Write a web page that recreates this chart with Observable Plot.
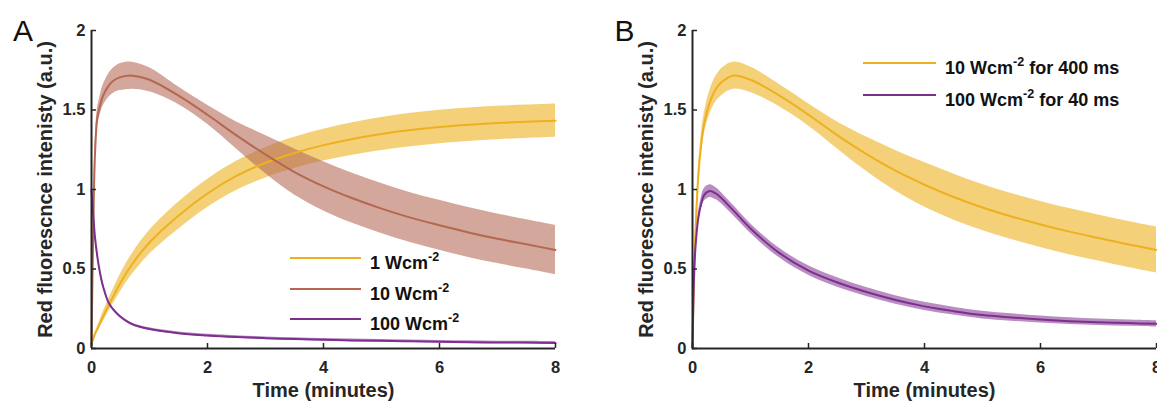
<!DOCTYPE html>
<html><head><meta charset="utf-8">
<script src="https://cdn.jsdelivr.net/npm/d3@7"></script>
<script src="https://cdn.jsdelivr.net/npm/@observablehq/plot@0.6"></script>
<style>
html,body{margin:0;padding:0;background:#fff;overflow:hidden}
#wrap{position:relative;width:1157px;height:401px;overflow:hidden;font-family:"Liberation Sans",Arial,sans-serif}
#panelA{position:absolute;left:0;top:0;width:580px}
#panelB{position:absolute;left:600px;top:0;width:576px}
#wrap svg{max-width:none !important}
#legend{position:absolute;left:0;top:0;pointer-events:none}
</style></head><body>
<div id="wrap"><div id="panelA"></div><div id="panelB"></div>
<svg id="legend" width="1157" height="401"></svg></div>
<script>
// ---- data ----
const time = [0, 0.03, 0.06, 0.1, 0.15, 0.2, 0.3, 0.4, 0.5, 0.7, 1, 1.5, 2, 2.5, 3, 3.5, 4, 4.5, 5, 5.5, 6, 6.5, 7, 7.5, 8];

// Panel A
const a1Mean = [0.03, 0.06, 0.09, 0.12, 0.16, 0.2, 0.275, 0.345, 0.414, 0.53, 0.667, 0.835, 0.975, 1.085, 1.168, 1.23, 1.279, 1.318, 1.349, 1.374, 1.393, 1.407, 1.418, 1.426, 1.433];
const a1Err  = [0, 0.008, 0.012, 0.015, 0.022, 0.03, 0.04, 0.048, 0.055, 0.065, 0.075, 0.085, 0.088, 0.092, 0.095, 0.098, 0.1, 0.102, 0.104, 0.105, 0.105, 0.105, 0.105, 0.105, 0.105];
const a10Mean = [0.02, 0.75, 1.22, 1.45, 1.53, 1.59, 1.655, 1.69, 1.707, 1.716, 1.69, 1.59, 1.47, 1.34, 1.22, 1.11, 1.02, 0.945, 0.88, 0.823, 0.775, 0.73, 0.69, 0.655, 0.62];
const a10Err  = [0, 0.03, 0.045, 0.055, 0.06, 0.065, 0.075, 0.08, 0.085, 0.085, 0.075, 0.055, 0.06, 0.085, 0.12, 0.145, 0.155, 0.157, 0.157, 0.157, 0.157, 0.157, 0.156, 0.155, 0.155];
const a100Mean = [1.0, 0.84, 0.70, 0.58, 0.47, 0.39, 0.285, 0.235, 0.2, 0.153, 0.122, 0.096, 0.082, 0.072, 0.065, 0.06, 0.055, 0.051, 0.048, 0.045, 0.043, 0.04, 0.038, 0.037, 0.035];
const a100Err  = [0.012, 0.01, 0.01, 0.01, 0.009, 0.009, 0.008, 0.008, 0.008, 0.008, 0.008, 0.008, 0.008, 0.008, 0.008, 0.008, 0.008, 0.008, 0.008, 0.008, 0.008, 0.008, 0.008, 0.008, 0.008];

// Panel B
const b10Mean = [0, 0.5, 0.8, 1.08, 1.28, 1.41, 1.55, 1.63, 1.675, 1.716, 1.69, 1.59, 1.47, 1.34, 1.222, 1.118, 1.03, 0.953, 0.887, 0.83, 0.78, 0.735, 0.695, 0.656, 0.62];
const b10Err  = [0, 0.03, 0.045, 0.055, 0.06, 0.065, 0.075, 0.08, 0.085, 0.085, 0.08, 0.07, 0.07, 0.085, 0.108, 0.128, 0.14, 0.145, 0.145, 0.145, 0.145, 0.145, 0.145, 0.145, 0.145];
const b100Mean = [0, 0.49, 0.68, 0.82, 0.91, 0.965, 0.99, 0.975, 0.945, 0.87, 0.755, 0.6, 0.49, 0.415, 0.355, 0.305, 0.265, 0.235, 0.21, 0.195, 0.182, 0.172, 0.165, 0.16, 0.155];
const b100Err  = [0, 0.02, 0.025, 0.03, 0.035, 0.04, 0.04, 0.038, 0.035, 0.032, 0.03, 0.03, 0.03, 0.03, 0.028, 0.027, 0.026, 0.025, 0.024, 0.023, 0.022, 0.021, 0.02, 0.02, 0.02];

const xTicks = [0, 2, 4, 6, 8];
const yTicks = [0, 0.5, 1, 1.5, 2];
const xLabel = "Time (minutes)";
const yLabel = "Red fluorescnce intenisty (a.u.)";

const legendAMain = ["1 Wcm", "10 Wcm", "100 Wcm"];
const legendASup = ["-2", "-2", "-2"];
const legendARest = ["", "", ""];
const legendBMain = ["10 Wcm", "100 Wcm"];
const legendBSup = ["-2", "-2"];
const legendBRest = [" for 400 ms", " for 40 ms"];

const YELLOW = "#EDB120", BROWN = "#B5674F", BROWN_BAND = "#B56D59", PURPLE = "#7E2F8E";
const AXIS = "#262626";
const FONT = '"Liberation Sans", Arial, sans-serif';

function rowsOf(mean, err) {
  return time.map((t, i) => ({t, m: mean[i], lo: mean[i] - err[i], hi: mean[i] + err[i]}));
}

function panel(series, {width, marginLeft, marginRight, letter, letterDx}) {
  const marks = [];
  const data = series.map(s => rowsOf(s.mean, s.err));
  series.forEach((s, i) => marks.push(Plot.areaY(data[i], {x: "t", y1: "lo", y2: "hi", fill: s.band, fillOpacity: s.op, curve: "catmull-rom"})));
  series.forEach((s, i) => marks.push(Plot.line(data[i], {x: "t", y: "m", stroke: s.color, strokeWidth: 2, curve: "catmull-rom"})));
  marks.push(
    Plot.ruleX([0], {y1: 0, y2: 2, stroke: AXIS, strokeWidth: 2}),
    Plot.ruleY([0], {x1: 0, x2: 8, stroke: AXIS, strokeWidth: 2}),
    Plot.axisX(xTicks, {tickSize: -5, tickPadding: 18, fontSize: 16.5, fontWeight: "bold", fill: AXIS, stroke: AXIS, strokeWidth: 1.5, label: null, tickFormat: d => String(d)}),
    Plot.axisY(yTicks, {tickSize: -5, tickPadding: 11, fontSize: 16.5, fontWeight: "bold", fill: AXIS, stroke: AXIS, strokeWidth: 1.5, label: null, tickFormat: d => String(d)}),
    Plot.text([yLabel], {frameAnchor: "left", dx: -46, rotate: -90, textAnchor: "middle", lineAnchor: "middle", fontSize: 20, fontWeight: "bold", fill: AXIS}),
    Plot.text([xLabel], {frameAnchor: "bottom", dy: 42, textAnchor: "middle", lineAnchor: "middle", fontSize: 20, fontWeight: "bold", fill: AXIS}),
    Plot.text([letter], {frameAnchor: "top-left", dx: letterDx, dy: 1, textAnchor: "middle", lineAnchor: "middle", fontSize: 30, fill: "#111"})
  );
  return Plot.plot({
    width, height: 401, marginLeft, marginRight, marginTop: 30, marginBottom: 53,
    style: {fontFamily: FONT, background: "transparent", overflow: "visible", maxWidth: "none"},
    x: {domain: [0, 8]},
    y: {domain: [0, 2]},
    marks
  });
}

document.getElementById("panelA").append(panel([
  {mean: a1Mean, err: a1Err, color: YELLOW, band: YELLOW, op: 0.6},
  {mean: a10Mean, err: a10Err, color: BROWN, band: BROWN_BAND, op: 0.6},
  {mean: a100Mean, err: a100Err, color: PURPLE, band: PURPLE, op: 0.55}
], {width: 580, marginLeft: 91, marginRight: 25, letter: "A", letterDx: -68.5}));

document.getElementById("panelB").append(panel([
  {mean: b10Mean, err: b10Err, color: YELLOW, band: YELLOW, op: 0.6},
  {mean: b100Mean, err: b100Err, color: PURPLE, band: PURPLE, op: 0.55}
], {width: 576, marginLeft: 92, marginRight: 20, letter: "B", letterDx: -68}));

// ---- legends ----
const svg = d3.select("#legend").style("font-family", FONT);
function legend(x0, x1, tx, ys, colors, main, sup, rest) {
  ys.forEach((y, i) => {
    svg.append("line").attr("x1", x0).attr("x2", x1).attr("y1", y).attr("y2", y)
      .attr("stroke", colors[i]).attr("stroke-width", 2);
    const t = svg.append("text").attr("x", tx).attr("y", y + 11)
      .attr("font-size", 18).attr("font-weight", "bold").attr("fill", "#111");
    t.append("tspan").text(main[i]);
    t.append("tspan").attr("dy", -8.5).attr("font-size", 12.5).text(sup[i]);
    if (rest[i]) t.append("tspan").attr("dy", 8.5).text(rest[i]);
  });
}
legend(290, 361, 370, [258, 289, 319], [YELLOW, BROWN, PURPLE], legendAMain, legendASup, legendARest);
legend(863, 936, 945, [63, 95], [YELLOW, PURPLE], legendBMain, legendBSup, legendBRest);
</script></body></html>
